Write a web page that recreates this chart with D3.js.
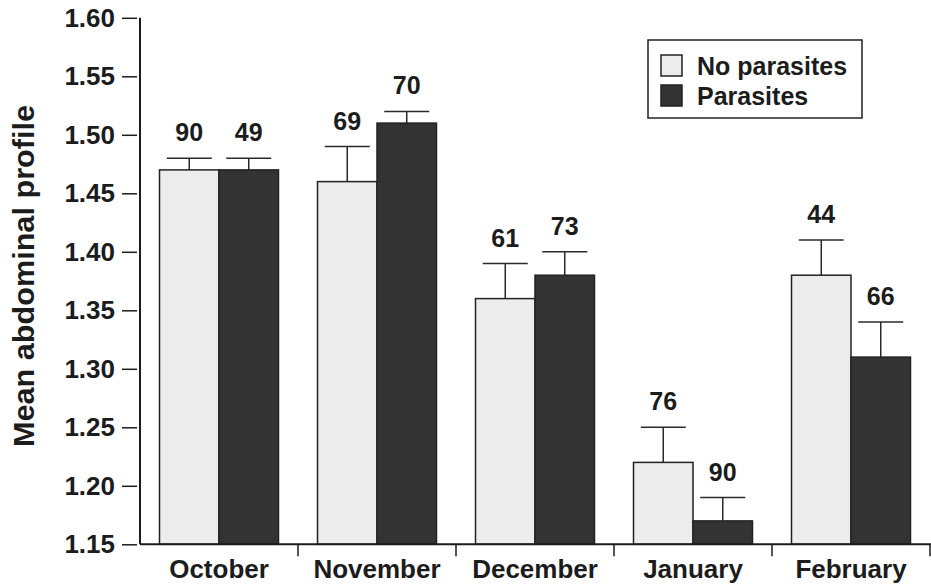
<!DOCTYPE html>
<html>
<head>
<meta charset="utf-8">
<script src="https://cdn.jsdelivr.net/npm/d3@7"></script>
<style>
  html, body { margin: 0; padding: 0; background: #fff; }
  svg { display: block; }
  text { font-family: "Liberation Sans", Arial, Helvetica, sans-serif; font-weight: bold; fill: #1c1c1c; }
</style>
</head>
<body>
<svg id="chart" width="931" height="585"></svg>
<script>
// Monthly mean abdominal profile, with and without parasites
const months = ["October", "November", "December", "January", "February"];
const series = ["No parasites", "Parasites"];
const noParasites    = [1.47, 1.46, 1.36, 1.22, 1.38];
const noParasitesErr = [0.01, 0.03, 0.03, 0.03, 0.03];
const parasites      = [1.47, 1.51, 1.38, 1.17, 1.31];
const parasitesErr   = [0.01, 0.01, 0.02, 0.02, 0.03];
const nNoParasites   = [90, 69, 61, 76, 44];
const nParasites     = [49, 70, 73, 90, 66];
const yTicks = [1.15, 1.20, 1.25, 1.30, 1.35, 1.40, 1.45, 1.50, 1.55, 1.60];

const colors = { "No parasites": "#ececec", "Parasites": "#333333" };
const ink = "#1c1c1c";

const svg = d3.select("#chart");
const plotLeft = 140, plotRight = 930, plotTop = 17.8, plotBottom = 544.3;

const x = d3.scaleBand().domain(months).range([plotLeft, plotRight]).paddingInner(0).paddingOuter(0);
const xs = d3.scaleBand().domain(series).range([19.5, x.bandwidth() - 19.5]).padding(0);
const y = d3.scaleLinear().domain([1.15, 1.60]).range([plotBottom, plotTop]);

const rows = months.map((m, i) => ({
  month: m,
  vals: [
    { s: "No parasites", v: noParasites[i], e: noParasitesErr[i], n: nNoParasites[i] },
    { s: "Parasites",    v: parasites[i],   e: parasitesErr[i],   n: nParasites[i] }
  ]
}));

const groups = svg.append("g").selectAll("g")
  .data(rows).join("g")
  .attr("transform", d => `translate(${x(d.month)},0)`);

const items = groups.selectAll("g.item").data(d => d.vals).join("g").attr("class", "item");

// error bars (drawn first so the bar outline sits on top)
items.append("line")
  .attr("x1", d => xs(d.s) + xs.bandwidth() / 2)
  .attr("x2", d => xs(d.s) + xs.bandwidth() / 2)
  .attr("y1", d => y(d.v))
  .attr("y2", d => y(d.v + d.e))
  .attr("stroke", "#2a2a2a").attr("stroke-width", 1.5);
items.append("line")
  .attr("x1", d => xs(d.s) + xs.bandwidth() / 2 - 22.5)
  .attr("x2", d => xs(d.s) + xs.bandwidth() / 2 + 22.5)
  .attr("y1", d => y(d.v + d.e))
  .attr("y2", d => y(d.v + d.e))
  .attr("stroke", "#2a2a2a").attr("stroke-width", 1.5);

items.append("rect")
  .attr("x", d => xs(d.s))
  .attr("y", d => y(d.v))
  .attr("width", xs.bandwidth())
  .attr("height", d => y(1.15) - y(d.v))
  .attr("fill", d => colors[d.s])
  .attr("stroke", "#222").attr("stroke-width", 1.5);

// sample sizes above each error bar
items.append("text")
  .attr("x", d => xs(d.s) + xs.bandwidth() / 2)
  .attr("y", d => y(d.v + d.e) - 17)
  .attr("text-anchor", "middle")
  .attr("font-size", 25)
  .text(d => d.n);

// y axis
const yAxis = svg.append("g")
  .attr("transform", `translate(${plotLeft},0)`)
  .call(d3.axisLeft(y).tickValues(yTicks).tickFormat(d3.format(".2f")).tickSize(18).tickPadding(7));
yAxis.select(".domain").attr("d", `M0,${plotTop}V${plotBottom}`).attr("stroke", ink).attr("stroke-width", 2);
yAxis.selectAll(".tick line").attr("stroke", ink).attr("stroke-width", 1.5).attr("x2", -3).attr("x1", -18);
yAxis.selectAll(".tick text").attr("font-size", 26).attr("fill", ink)
  .style("font-family", '"Liberation Sans", Arial, sans-serif').style("font-weight", "bold");

// x axis with separators between month groups
const xAxis = svg.append("g")
  .attr("transform", `translate(0,${plotBottom})`)
  .call(d3.axisBottom(x).tickSize(0).tickPadding(34));
xAxis.select(".domain").attr("d", `M${plotLeft},0H931`).attr("stroke", ink).attr("stroke-width", 2);
xAxis.selectAll(".tick text").attr("font-size", 26).attr("fill", ink).attr("dy", 0)
  .style("font-family", '"Liberation Sans", Arial, sans-serif').style("font-weight", "bold");
xAxis.selectAll(".sep").data(months).join("line")
  .attr("class", "sep")
  .attr("x1", d => x(d) + x.bandwidth())
  .attr("x2", d => x(d) + x.bandwidth())
  .attr("y1", 0).attr("y2", 12)
  .attr("stroke", ink).attr("stroke-width", 1.5);

// y axis title
svg.append("text")
  .attr("transform", "translate(34,276) rotate(-90)")
  .attr("text-anchor", "middle")
  .attr("font-size", 30)
  .attr("textLength", 342)
  .attr("lengthAdjust", "spacingAndGlyphs")
  .text("Mean abdominal profile");

// legend
const legend = svg.append("g");
legend.append("rect")
  .attr("x", 648).attr("y", 40).attr("width", 214).attr("height", 78)
  .attr("fill", "#fff").attr("stroke", "#222").attr("stroke-width", 1.5);
const li = legend.selectAll("g.li").data(series).join("g").attr("class", "li")
  .attr("transform", (d, i) => `translate(661,${55 + i * 30})`);
li.append("rect")
  .attr("width", 21).attr("height", 21)
  .attr("fill", d => colors[d]).attr("stroke", "#222").attr("stroke-width", 1.5);
li.append("text")
  .attr("x", 36).attr("y", 19.5)
  .attr("font-size", 25)
  .text(d => d);
</script>
</body>
</html>
